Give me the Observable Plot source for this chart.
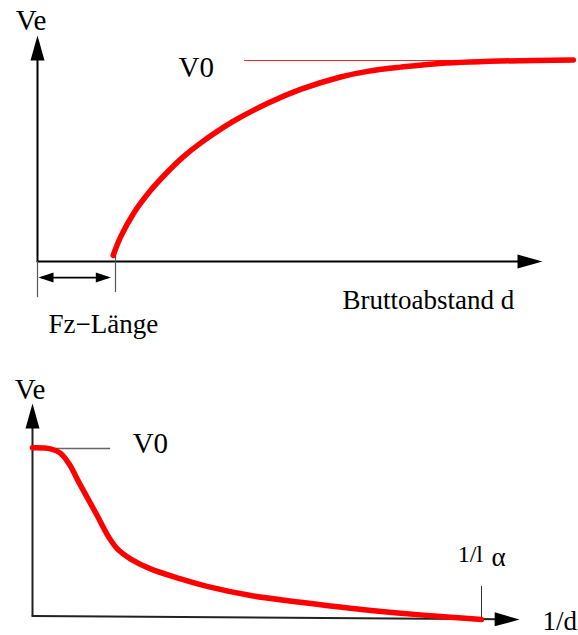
<!DOCTYPE html>
<html>
<head>
<meta charset="utf-8">
<script src="https://cdn.jsdelivr.net/npm/d3@7"></script>
<script src="https://cdn.jsdelivr.net/npm/@observablehq/plot@0.6"></script>
<style>
  html, body { margin: 0; padding: 0; background: #fff; }
  #chart svg { display: block; }
</style>
</head>
<body>
<div id="chart"></div>
<script>
// Upper diagram: equilibrium speed Ve against gross spacing d (d in vehicle lengths, Ve in units of V0)
const gapD  = [0.97, 1.064, 1.231, 1.449, 1.663, 1.872, 2.090, 2.513, 2.945, 3.372, 3.885, 4.231, 4.654, 5.077, 5.936, 6.87];
const gapVe = [0.03, 0.121, 0.239, 0.353, 0.444, 0.522, 0.589, 0.698, 0.786, 0.856, 0.918, 0.946, 0.967, 0.983, 0.997, 1.003];

// Lower diagram: Ve against 1/d (1/d in units of 1/lα)
const invD  = [0, 0.040, 0.062, 0.081, 0.107, 0.144, 0.170, 0.189, 0.218, 0.263, 0.330, 0.396, 0.486, 0.597, 0.708, 0.820, 0.931, 1.0];
const invVe = [1.004, 0.998, 0.973, 0.912, 0.784, 0.608, 0.481, 0.413, 0.355, 0.296, 0.238, 0.189, 0.140, 0.101, 0.066, 0.037, 0.013, 0];

const V0 = 1;            // free-flow speed
const fzLength = 1;      // vehicle length (Fz-Länge) on the d axis
const invLalpha = 1;     // 1/lα on the 1/d axis

// Label texts
const yLabel = "Ve";
const v0Label = "V0";
const topXLabel = "Bruttoabstand d";
const fzLabel = "Fz\u2212Länge";
const botXLabel = "1/d";
const lalphaLabel = "1/l";
const alphaLabel = "\u03b1";

const serif = "Liberation Serif, Times New Roman, serif";

// filled arrowhead: tip at the point, body trailing behind (points right before rotation)
const arrowHead = (len, half) => ({
  draw(ctx) {
    ctx.moveTo(0, 0);
    ctx.lineTo(-len, -half);
    ctx.lineTo(-len, half);
    ctx.closePath();
  }
});
const bigHead = arrowHead(25, 7);
const smallHead = arrowHead(15, 5);

const gapData = gapD.map((d, i) => ({d, ve: gapVe[i]}));
const invData = invD.map((x, i) => ({x, ve: invVe[i]}));

const txt = (s, x, y, opts = {}) =>
  Plot.text([s], {x: () => x, y: () => y, text: d => d, fontFamily: serif, fontSize: 27,
                  lineAnchor: "bottom", textAnchor: "start", fill: "black", ...opts});

// ---------- upper diagram ----------
const topXmax = 6.474, topYmax = 1.124;
const upperPlot = Plot.plot({
  width: 578,
  height: 345,
  margin: 0,
  style: {background: "white", overflow: "visible"},
  x: {domain: [0, 7], range: [37, 583], axis: null},
  y: {domain: [0, 1], range: [261, 60], axis: null},
  marks: [
    // axes
    Plot.line([[0, 0], [topXmax - 0.2, 0]], {stroke: "black", strokeWidth: 2}),
    Plot.line([[0, 0], [0, topYmax - 0.08]], {stroke: "black", strokeWidth: 2}),
    Plot.dot([[topXmax, 0]], {symbol: bigHead, fill: "black", stroke: "none", r: 5}),
    Plot.dot([[0, topYmax]], {symbol: bigHead, fill: "black", stroke: "none", r: 5, rotate: -90}),
    // vehicle-length dimension
    Plot.ruleX([0], {y1: 0, y2: -0.18, stroke: "#555", strokeWidth: 1.2}),
    Plot.ruleX([fzLength], {y1: 0.08, y2: -0.154, stroke: "#555", strokeWidth: 1.2}),
    Plot.line([[0.05, -0.08], [fzLength - 0.1, -0.08]], {stroke: "black", strokeWidth: 1.6}),
    Plot.dot([[0.013, -0.08]], {symbol: smallHead, fill: "black", stroke: "none", r: 5, rotate: 180}),
    Plot.dot([[0.94, -0.08]], {symbol: smallHead, fill: "black", stroke: "none", r: 5}),
    // V0 level
    Plot.ruleY([V0], {x1: 2.654, x2: 6.8, stroke: "#ff2020", strokeWidth: 1.2}),
    // Ve(d)
    Plot.line(gapData, {x: "d", y: "ve", stroke: "#ff0000", strokeWidth: 5.5, curve: "catmull-rom"}),
    // labels
    txt(yLabel, -0.083, 1.154, {textAnchor: "middle", fontSize: 29}),
    txt(v0Label, 1.808, 0.920, {fontSize: 29}),
    txt(topXLabel, 3.910, -0.234),
    txt(fzLabel, 0.141, -0.358)
  ]
});

// ---------- lower diagram ----------
const botXmax = 1.085, botYmax = 1.263, axisStart = 0.0205;
const lowerPlot = Plot.plot({
  width: 578,
  height: 290,
  margin: 0,
  style: {background: "white", overflow: "visible"},
  x: {domain: [0, 1], range: [32, 481], axis: null},
  y: {domain: [0, 1], range: [274, 103], axis: null},
  marks: [
    // axes
    Plot.line([[0, axisStart], [botXmax - 0.04, 0.001]], {stroke: "#222", strokeWidth: 2}),
    Plot.line([[0, axisStart], [0, botYmax - 0.1]], {stroke: "#222", strokeWidth: 2}),
    Plot.dot([[botXmax, 0]], {symbol: bigHead, fill: "black", stroke: "none", r: 5, rotate: 0.4}),
    Plot.dot([[0, botYmax]], {symbol: bigHead, fill: "black", stroke: "none", r: 5, rotate: -90}),
    // V0 level and 1/lα marker
    Plot.ruleY([V0], {x1: 0, x2: 0.174, stroke: "#666", strokeWidth: 1.4}),
    Plot.ruleX([invLalpha], {y1: 0.193, y2: 0, stroke: "#333", strokeWidth: 1}),
    // Ve(1/d)
    Plot.line(invData, {x: "x", y: "ve", stroke: "#ff0000", strokeWidth: 5.5, curve: "catmull-rom"}),
    // labels
    txt(yLabel, -0.0056, 1.292, {textAnchor: "middle", fontSize: 29}),
    txt(v0Label, 0.223, 0.971, {fontSize: 29}),
    txt(lalphaLabel, 0.947, 0.339, {fontSize: 24}),
    txt(alphaLabel, 1.022, 0.310, {fontSize: 27}),
    txt(botXLabel, 1.136, -0.064)
  ]
});

document.getElementById("chart").append(upperPlot, lowerPlot);
</script>
</body>
</html>
